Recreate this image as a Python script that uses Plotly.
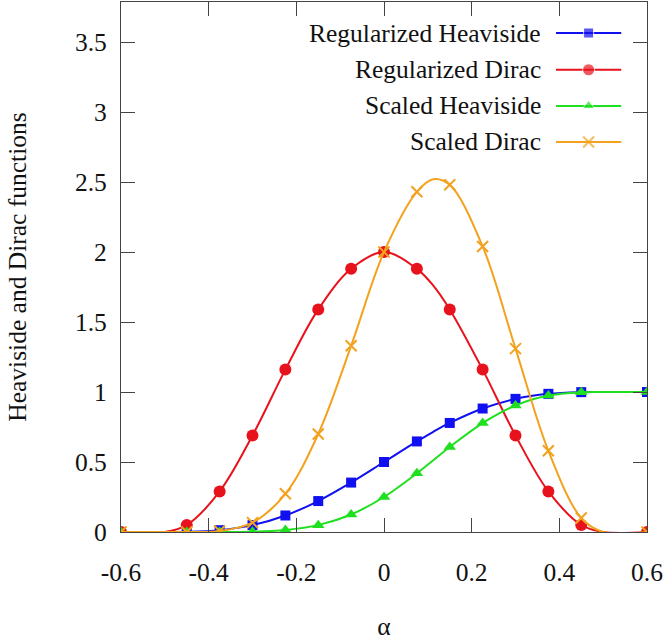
import plotly.graph_objects as go

# ---------------- data ----------------
alpha_pts = [-0.6, -0.45, -0.375, -0.3, -0.225, -0.15, -0.075, 0.0,
             0.075, 0.15, 0.225, 0.3, 0.375, 0.45, 0.6]
reg_heaviside = [0.0, 0.001, 0.013, 0.049, 0.118, 0.221, 0.353, 0.5,
                 0.647, 0.779, 0.882, 0.951, 0.987, 0.999, 1.0]
reg_dirac = [0.0, 0.05, 0.29, 0.69, 1.16, 1.59, 1.88, 2.0,
             1.88, 1.59, 1.16, 0.69, 0.29, 0.05, 0.0]
scaled_heaviside = [0.0, 0.0, 0.0002, 0.002, 0.014, 0.049, 0.125, 0.25,
                    0.419, 0.607, 0.778, 0.904, 0.975, 0.998, 1.0]
scaled_dirac = [0.0, 0.0, 0.007, 0.067, 0.273, 0.70, 1.33, 2.0,
                2.43, 2.48, 2.04, 1.31, 0.58, 0.10, 0.0]

# line (curve) samples: marker points plus the flat ends at |alpha| = 0.5
alpha_line = [-0.6, -0.5, -0.45, -0.375, -0.3, -0.225, -0.15, -0.075, 0.0,
              0.075, 0.1125, 0.15, 0.225, 0.3, 0.375, 0.45, 0.5, 0.6]
reg_heaviside_line = [0.0, 0.0, 0.001, 0.013, 0.049, 0.118, 0.221, 0.353, 0.5,
                      0.647, 0.716, 0.779, 0.882, 0.951, 0.987, 0.999, 1.0, 1.0]
reg_dirac_line = [0.0, 0.0, 0.05, 0.29, 0.69, 1.16, 1.59, 1.88, 2.0,
                  1.88, 1.76, 1.59, 1.16, 0.69, 0.29, 0.05, 0.0, 0.0]
scaled_heaviside_line = [0.0, 0.0, 0.0, 0.0002, 0.002, 0.014, 0.049, 0.125, 0.25,
                         0.419, 0.513, 0.607, 0.778, 0.904, 0.975, 0.998, 1.0, 1.0]
scaled_dirac_line = [0.0, 0.0, 0.0, 0.007, 0.067, 0.273, 0.70, 1.33, 2.0,
                     2.43, 2.52, 2.48, 2.04, 1.31, 0.58, 0.10, 0.0, 0.0]

series_names = ["Regularized Heaviside", "Regularized Dirac",
                "Scaled Heaviside", "Scaled Dirac"]
x_ticks = [-0.6, -0.4, -0.2, 0, 0.2, 0.4, 0.6]
x_tick_text = ["-0.6", "-0.4", "-0.2", "0", "0.2", "0.4", "0.6"]
y_ticks = [0, 0.5, 1, 1.5, 2, 2.5, 3, 3.5]
y_tick_text = ["0", "0.5", "1", "1.5", "2", "2.5", "3", "3.5"]

# ---------------- styles ----------------
colors = ["#1010f0", "#e8121c", "#1fe01f", "#f2a21e"]
symbols = ["square", "circle", "triangle-up", "x-thin-open"]
msizes = [10, 12, 11, 11]
lines = [reg_heaviside_line, reg_dirac_line, scaled_heaviside_line, scaled_dirac_line]
points = [reg_heaviside, reg_dirac, scaled_heaviside, scaled_dirac]

SERIF = "Liberation Serif"
FS = 25.5

fig = go.Figure()
for name, c, sym, ms, yl, yp in zip(series_names, colors, symbols, msizes, lines, points):
    fig.add_trace(go.Scatter(x=alpha_line, y=yl, mode="lines", name=name,
                             line=dict(color=c, width=2, shape="spline", smoothing=1.0),
                             showlegend=False, hoverinfo="skip"))
    mk = dict(color=c, size=ms, symbol=sym)
    if sym.startswith("x"):
        mk["line"] = dict(color=c, width=2)
    fig.add_trace(go.Scatter(x=alpha_pts, y=yp, mode="markers", name=name,
                             marker=mk, showlegend=False))

# ---------------- custom legend (text left of key, like gnuplot) ----------------
leg_text_x = 0.802
leg_x0, leg_xm, leg_x1 = 0.827, 0.889, 0.951
leg_rows = [0.9415, 0.872, 0.804, 0.736]
for name, c, sym, ms, ry in zip(series_names, colors, symbols, msizes, leg_rows):
    mk = dict(color=c, size=[0, ms, 0], symbol=sym)
    if sym.startswith("x"):
        mk["line"] = dict(color=c, width=2)
    fig.add_trace(go.Scatter(x=[leg_x0, leg_xm, leg_x1], y=[ry, ry, ry],
                             mode="lines+markers", xaxis="x2", yaxis="y2",
                             line=dict(color=c, width=2), marker=mk,
                             showlegend=False, hoverinfo="skip"))
    fig.add_annotation(x=leg_text_x, y=ry, xref="paper", yref="paper",
                       text=name, showarrow=False, xanchor="right", yanchor="middle",
                       font=dict(family=SERIF, size=FS, color="#111"))

axis_common = dict(showline=True, linecolor="#444", linewidth=1.2, mirror="ticks",
                   ticks="inside", ticklen=14, tickcolor="#444", tickwidth=1,
                   showgrid=False, zeroline=False,
                   tickfont=dict(family=SERIF, size=FS, color="#111"))

fig.update_layout(
    width=667, height=641,
    margin=dict(l=121, r=20, t=2, b=109),
    plot_bgcolor="white", paper_bgcolor="white",
    showlegend=False,
    xaxis=dict(range=[-0.6, 0.6], tickvals=x_ticks, ticktext=x_tick_text,
               ticklabelstandoff=17,
               title=dict(text="α", font=dict(family=SERIF, size=FS, color="#111"),
                          standoff=34),
               **axis_common),
    yaxis=dict(range=[0, 3.786], tickvals=y_ticks, ticktext=y_tick_text,
               ticklabelstandoff=8,
               title=dict(text="Heaviside and Dirac functions",
                          font=dict(family=SERIF, size=FS, color="#111"), standoff=40),
               **axis_common),
    xaxis2=dict(range=[0, 1], overlaying="x", visible=False, domain=[0, 1]),
    yaxis2=dict(range=[0, 1], overlaying="y", visible=False),
)

fig.write_html("out.html")
